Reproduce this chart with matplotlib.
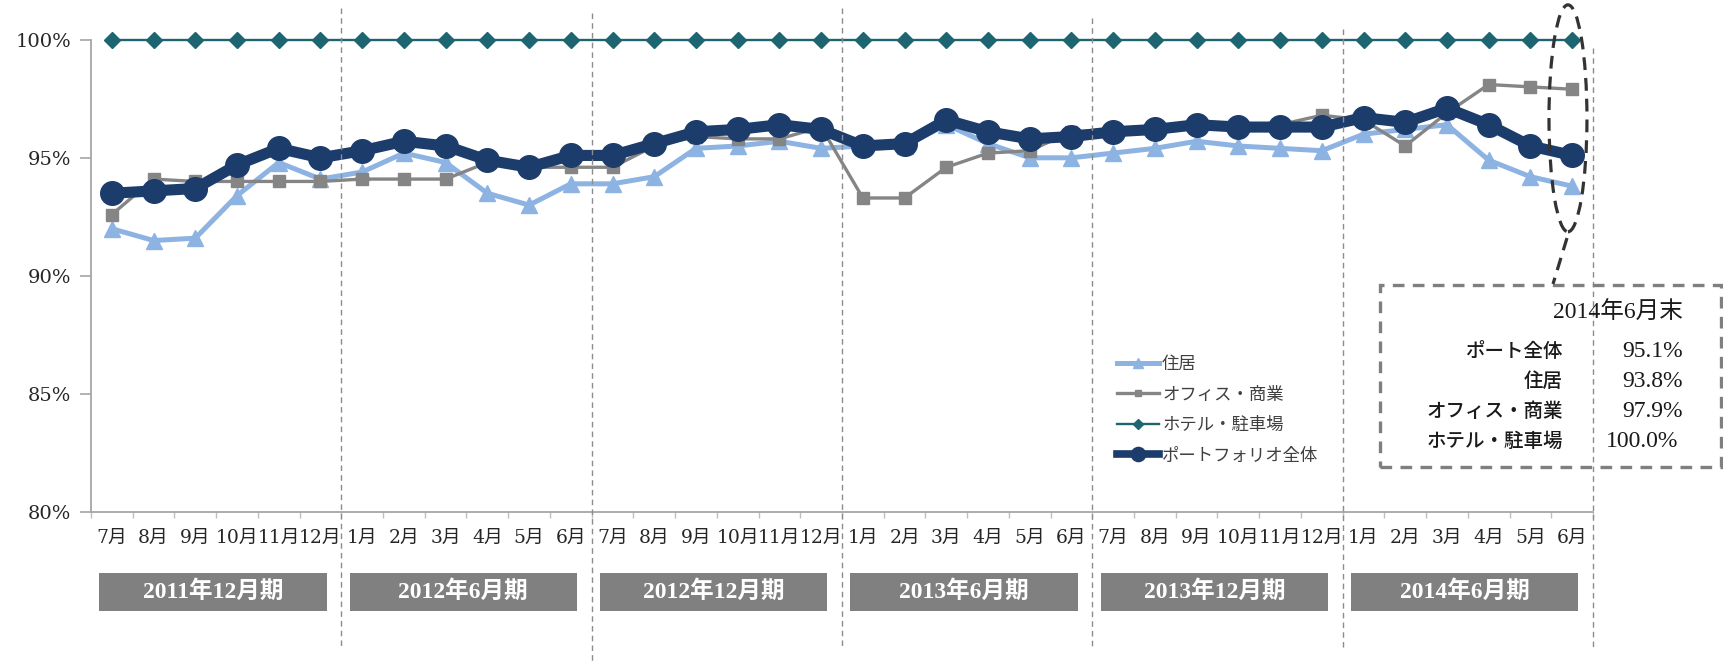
import matplotlib
matplotlib.use('Agg')
import matplotlib.pyplot as plt
import matplotlib.transforms as mtransforms
from matplotlib.patches import Rectangle, Ellipse
from matplotlib.lines import Line2D

# ---------------- data ----------------
months = ['7月', '8月', '9月', '10月', '11月', '12月', '1月', '2月', '3月', '4月', '5月', '6月',
          '7月', '8月', '9月', '10月', '11月', '12月', '1月', '2月', '3月', '4月', '5月', '6月',
          '7月', '8月', '9月', '10月', '11月', '12月', '1月', '2月', '3月', '4月', '5月', '6月']
periods = ['2011年12月期', '2012年6月期', '2012年12月期', '2013年6月期', '2013年12月期', '2014年6月期']

residential = [92.0, 91.5, 91.6, 93.4, 94.8, 94.1, 94.4, 95.2, 94.8, 93.5, 93.0, 93.9,
               93.9, 94.2, 95.4, 95.5, 95.7, 95.4, 95.5, 95.5, 96.4, 95.6, 95.0, 95.0,
               95.2, 95.4, 95.7, 95.5, 95.4, 95.3, 96.0, 96.2, 96.4, 94.9, 94.2, 93.8]
office = [92.6, 94.1, 94.0, 94.0, 94.0, 94.0, 94.1, 94.1, 94.1, 94.8, 94.6, 94.6,
          94.6, 95.5, 95.9, 95.8, 95.8, 96.3, 93.3, 93.3, 94.6, 95.2, 95.3, 96.1,
          96.2, 96.3, 96.4, 96.4, 96.4, 96.8, 96.6, 95.5, 96.9, 98.1, 98.0, 97.9]
hotel = [100.0, 100.0, 100.0, 100.0, 100.0, 100.0, 100.0, 100.0, 100.0, 100.0, 100.0, 100.0,
         100.0, 100.0, 100.0, 100.0, 100.0, 100.0, 100.0, 100.0, 100.0, 100.0, 100.0, 100.0,
         100.0, 100.0, 100.0, 100.0, 100.0, 100.0, 100.0, 100.0, 100.0, 100.0, 100.0, 100.0]
portfolio = [93.5, 93.6, 93.7, 94.7, 95.4, 95.0, 95.3, 95.7, 95.5, 94.9, 94.6, 95.1,
             95.1, 95.6, 96.1, 96.2, 96.4, 96.2, 95.5, 95.6, 96.6, 96.1, 95.8, 95.9,
             96.1, 96.2, 96.4, 96.3, 96.3, 96.3, 96.7, 96.5, 97.1, 96.4, 95.5, 95.1]
series_names = ['住居', 'オフィス・商業', 'ホテル・駐車場', 'ポートフォリオ全体']

yticks = [80, 85, 90, 95, 100]
ytick_labels = ['80%', '85%', '90%', '95%', '100%']

summary_title = '2014年6月末'
summary_labels = ['ポート全体', '住居', 'オフィス・商業', 'ホテル・駐車場']
summary_values = ['95.1%', '93.8%', '97.9%', '100.0%']

# ---------------- style ----------------
SERIF = ['Liberation Serif', 'Noto Sans CJK JP']
WIDE_SERIF = ['DejaVu Serif', 'Noto Sans CJK JP']
SANS = ['Noto Sans CJK JP', 'DejaVu Sans']
plt.rcParams['font.family'] = WIDE_SERIF

W, H = 1724, 663
fig = plt.figure(figsize=(W / 100, H / 100), dpi=100)
fig.patch.set_facecolor('white')

ax_left, ax_right, ax_top, ax_bot = 91, 1593, 39.6, 512.4
ax = fig.add_axes([ax_left / W, 1 - ax_bot / H, (ax_right - ax_left) / W, (ax_bot - ax_top) / H])

x = list(range(len(months)))
l_res, = ax.plot(x, residential, color='#8db3e2', lw=3.6, marker='^', ms=12,
                 zorder=3, clip_on=False, label=series_names[0])
l_off, = ax.plot(x, office, color='#858585', lw=2.4, marker='s', ms=8,
                 zorder=4, clip_on=False, label=series_names[1])
l_hot, = ax.plot(x, hotel, color='#1d6570', lw=1.7, marker='D', ms=8.5,
                 zorder=5, clip_on=False, label=series_names[2])
l_port, = ax.plot(x, portfolio, color='#1c3c6b', lw=8, marker='o', ms=17,
                  zorder=6, clip_on=False, label=series_names[3])

ax.set_xlim(-0.5, len(months) - 0.5)
ax.set_ylim(80, 100)
ax.set_yticks(yticks)
ax.set_yticklabels(ytick_labels)
ax.set_xticks(x)
ax.set_xticklabels(months)
ax.set_xticks([i + 0.5 for i in range(-1, len(months))], minor=True)

for s in ['top', 'right']:
    ax.spines[s].set_visible(False)
for s in ['left', 'bottom']:
    ax.spines[s].set_color('#a6a6a6')
    ax.spines[s].set_linewidth(1.3)

ax.tick_params(axis='y', length=8, width=1.2, color='#a6a6a6', pad=6,
               labelsize=14, labelcolor='#262626')
ax.tick_params(axis='x', which='major', length=0, pad=12, labelsize=13.5, labelcolor='#262626')
ax.tick_params(axis='x', which='minor', length=4, width=1, color='#bfbfbf')

blend = mtransforms.blended_transform_factory(ax.transData, fig.transFigure)

# period separators
sep_pos = [5.5, 11.5, 17.5, 23.5, 29.5, 35.5]
sep_top = [8, 13, 8, 18, 29, 48]
sep_bot = [648, 663, 648, 648, 648, 648]
for p, t, b in zip(sep_pos, sep_top, sep_bot):
    fig.add_artist(Line2D([p, p], [1 - t / H, 1 - b / H], transform=blend,
                          color='#8c8c8c', lw=1.0, ls=(0, (4, 3)), zorder=1))

# period boxes
for k, name in enumerate(periods):
    fig.add_artist(Rectangle((6 * k - 0.3, 1 - 611 / H), 5.45, 38 / H, transform=blend,
                             facecolor='#808080', edgecolor='none', zorder=2))
    fig.text(6 * k + 2.425, 1 - 592 / H, name, transform=blend, ha='center', va='center',
             color='white', fontsize=17, fontweight='bold', family=SERIF, zorder=3)

# legend
leg = ax.legend(handles=[l_res, l_off, l_hot, l_port], loc='upper left',
                bbox_to_anchor=(1117 / W, 1 - 355 / H), bbox_transform=fig.transFigure,
                frameon=False, prop={'family': SANS, 'size': 12.5}, handlelength=2.4,
                handletextpad=0.2, labelspacing=0.72, borderpad=0, borderaxespad=0,
                markerscale=0.6, labelcolor='#404040')
for h in leg.legend_handles:
    h.set_linewidth(min(h.get_linewidth(), 5.5))

# highlight ellipse at the last month
ax.add_patch(Ellipse((34.9, 96.67), width=0.91, height=9.6, fill=False, edgecolor='#333333',
                     lw=2.3, ls=(0, (4, 2.5)), clip_on=False, zorder=8))
fig.add_artist(Line2D([1567 / W, 1553 / W], [1 - 238 / H, 1 - 284 / H], color='#333333',
                      lw=2.3, ls=(0, (4, 2.5))))

# summary box
fig.add_artist(Rectangle((1380 / W, 1 - 467 / H), (1721 - 1380) / W, (467 - 285) / H,
                         fill=False, edgecolor='#7f7f7f', lw=2.4, ls=(0, (3.5, 2.5)),
                         transform=fig.transFigure))
fig.text(1683 / W, 1 - 313 / H, summary_title, ha='right', va='center', fontsize=17,
         family=SERIF, color='#1a1a1a')
row_y = [351.7, 381.7, 411.7, 441.7]
val_right = [1683, 1683, 1683, 1678]
for lab, val, yy, vr in zip(summary_labels, summary_values, row_y, val_right):
    fig.text(1563 / W, 1 - yy / H, lab, ha='right', va='center', fontsize=14,
             family=SANS, fontweight='medium', color='#1a1a1a')
    fig.text(vr / W, 1 - yy / H, val, ha='right', va='center', fontsize=17,
             family=SERIF, color='#1a1a1a')

fig.savefig('out.png', dpi=100, facecolor='white')
